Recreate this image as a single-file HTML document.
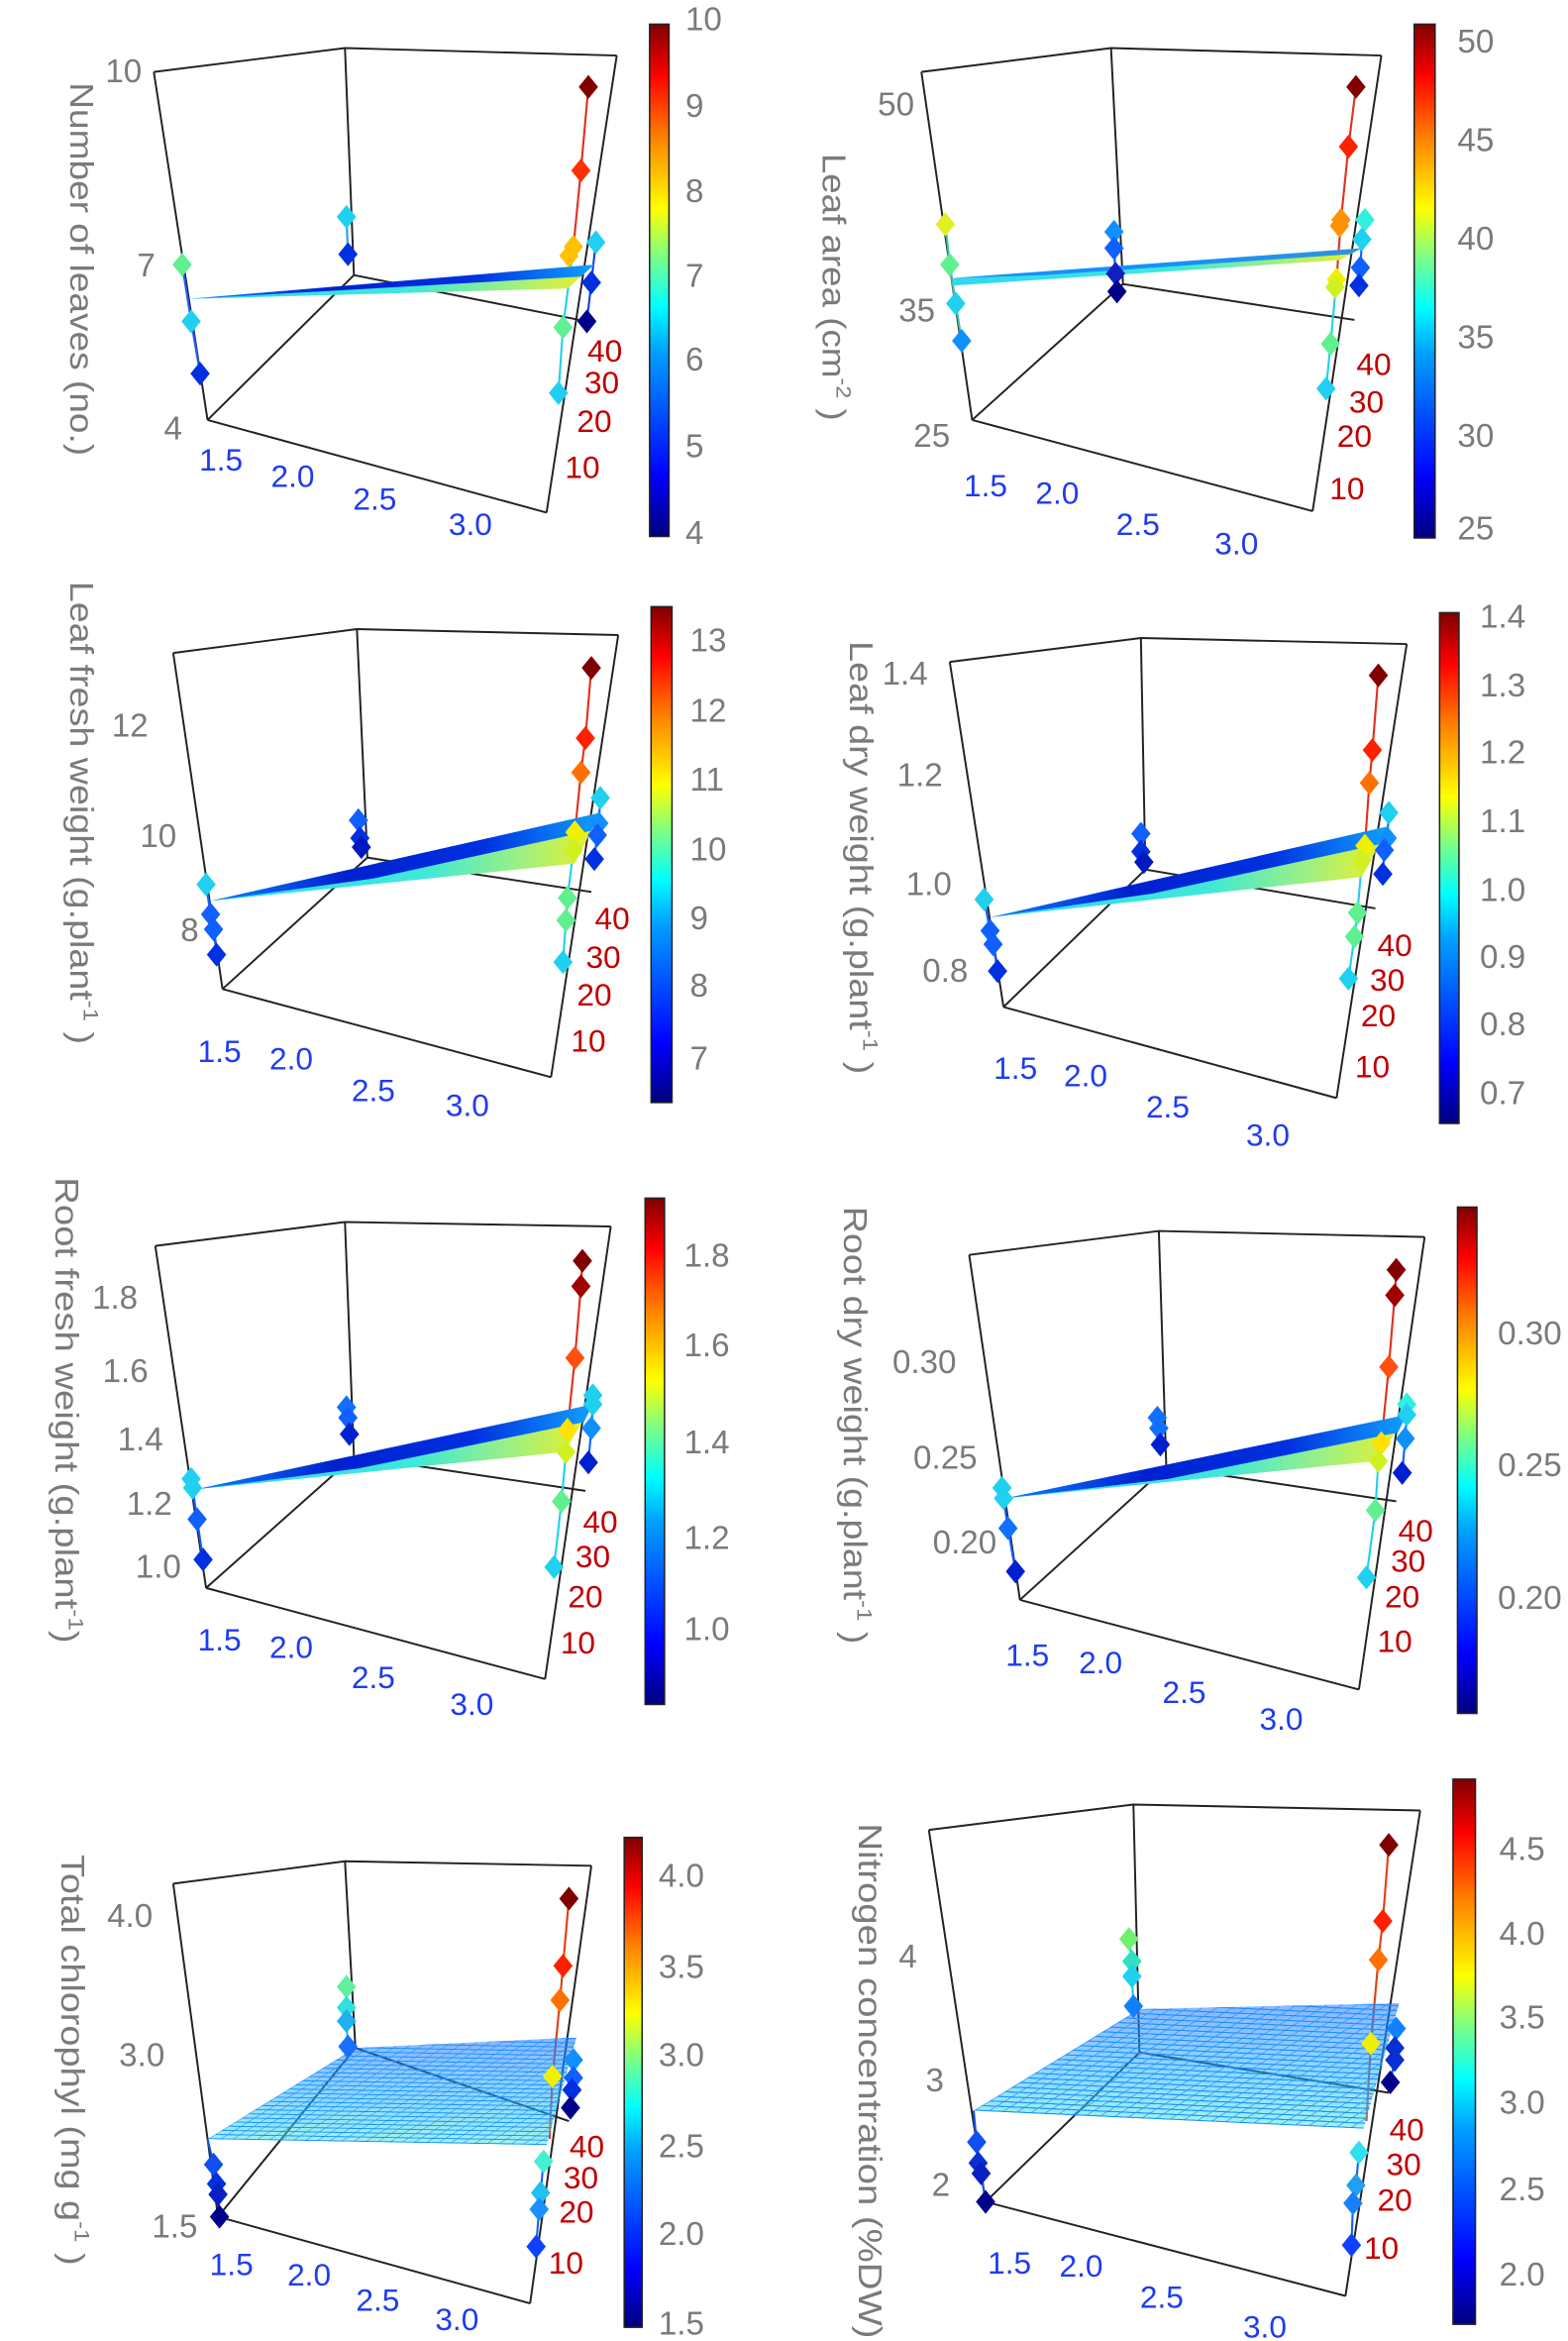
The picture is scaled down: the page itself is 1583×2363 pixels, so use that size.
<!DOCTYPE html>
<html><head><meta charset="utf-8"><style>
html,body{margin:0;padding:0;background:#fff;}
svg{display:block;}
.t{font-family:"Liberation Sans",sans-serif;fill:#7a7a7a;font-size:22px;}
.x{font-family:"Liberation Sans",sans-serif;fill:#1f3cf0;font-size:21px;}
.d{font-family:"Liberation Sans",sans-serif;fill:#c00000;font-size:21px;}
.yl{font-family:"Liberation Sans",sans-serif;fill:#7a7a7a;font-size:22px;}
.bx{fill:none;stroke:#222;stroke-width:1.3;}
.cb{fill:url(#jet);stroke:#222;stroke-width:1;}
.cl{fill:none;stroke-width:1.4;}
</style></head><body>
<svg width="1583" height="2363" viewBox="0 0 1050 1567" xmlns="http://www.w3.org/2000/svg" xmlns:xlink="http://www.w3.org/1999/xlink">
<defs>
<linearGradient id="jet" x1="0" y1="1" x2="0" y2="0">
<stop offset="0" stop-color="#00007f"/><stop offset="0.12" stop-color="#0000ff"/><stop offset="0.36" stop-color="#00a0ff"/><stop offset="0.45" stop-color="#00ffff"/><stop offset="0.55" stop-color="#80ff80"/><stop offset="0.64" stop-color="#ffff00"/><stop offset="0.78" stop-color="#ff8000"/><stop offset="0.9" stop-color="#ff0000"/><stop offset="1" stop-color="#7f0000"/>
</linearGradient>
<linearGradient id="mg" x1="0" y1="0" x2="0" y2="1">
<stop offset="0" stop-color="#1a6cff"/><stop offset="0.6" stop-color="#20b8ff"/><stop offset="1" stop-color="#40e8d0"/>
</linearGradient>
<linearGradient id="wb" x1="0" y1="0" x2="1" y2="0">
<stop offset="0" stop-color="#30d8f0"/><stop offset="0.55" stop-color="#40e8d8"/><stop offset="0.8" stop-color="#a0f080"/><stop offset="1" stop-color="#f0f020"/>
</linearGradient>
<linearGradient id="wt" x1="0" y1="0" x2="1" y2="0">
<stop offset="0" stop-color="#1080ff"/><stop offset="0.35" stop-color="#0020d0"/><stop offset="0.7" stop-color="#0030e0"/><stop offset="1" stop-color="#10a0ff"/>
</linearGradient>
<pattern id="p7" patternUnits="userSpaceOnUse" width="1" height="1" patternTransform="matrix(8.1,0.14,4.5,-2.77,139,1432)">
<path d="M0,0H1" stroke="#1a90ff" stroke-width="0.45"/><path d="M0,0V1" stroke="#1a90ff" stroke-width="0.16"/>
</pattern>
<pattern id="p8" patternUnits="userSpaceOnUse" width="1" height="1" patternTransform="matrix(9.32,0.43,5.05,-3.09,652,1413)">
<path d="M0,0H1" stroke="#1a90ff" stroke-width="0.45"/><path d="M0,0V1" stroke="#1a90ff" stroke-width="0.16"/>
</pattern>
<path id="dm" d="M0,-8L6.5,0L0,8L-6.5,0Z"/>
</defs>

<!-- ===== Panel 1 ===== -->
<path class="bx" d="M103,48L231,32L413,37M103,48L139,281M231,32L237,184M413,37L366,343M139,281L237,184M139,281L366,343M237,184L393,215"/>
<rect class="cb" x="435" y="16" width="13" height="343"/>
<polyline class="cl" stroke="#2060ff" points="122,177 128,215 134,250"/>
<polyline class="cl" stroke="#20a0f0" points="232,145 233,170"/>
<polyline class="cl" stroke="#e03020" points="394,58 389,114 384,165"/>
<polyline class="cl" stroke="#20d0f0" points="384,165 377,219 374,263"/>
<polyline class="cl" stroke="#1040e0" points="399,162 396,189 393,215"/>
<polygon points="126,200 398,177 380,193" fill="url(#wb)"/>
<polygon points="126,200 398,177 389,185" fill="url(#wt)"/>
<use xlink:href="#dm" x="122" y="177" fill="#60f090"/><use xlink:href="#dm" x="128" y="215" fill="#20d0f0"/><use xlink:href="#dm" x="134" y="250" fill="#0030e0"/>
<use xlink:href="#dm" x="232" y="145" fill="#20d0f0"/><use xlink:href="#dm" x="233" y="170" fill="#0030e0"/>
<use xlink:href="#dm" x="394" y="58" fill="#800000"/><use xlink:href="#dm" x="389" y="114" fill="#ff3000"/><use xlink:href="#dm" x="384" y="165" fill="#ffc000"/><use xlink:href="#dm" x="381" y="171" fill="#ffc000"/><use xlink:href="#dm" x="377" y="219" fill="#60f090"/><use xlink:href="#dm" x="374" y="263" fill="#20d0f0"/>
<use xlink:href="#dm" x="399" y="162" fill="#20d0f0"/><use xlink:href="#dm" x="396" y="189" fill="#0030e0"/><use xlink:href="#dm" x="393" y="215" fill="#00008b"/>

<text class="yl" transform="translate(47,180) rotate(90)" text-anchor="middle" textLength="250" lengthAdjust="spacingAndGlyphs">Number of leaves (no.)</text>
<text class="t" x="95" y="55" text-anchor="end">10</text>
<text class="t" x="104" y="185" text-anchor="end">7</text>
<text class="t" x="122" y="294" text-anchor="end">4</text>
<text class="x" x="148" y="315" text-anchor="middle">1.5</text>
<text class="x" x="196" y="326" text-anchor="middle">2.0</text>
<text class="x" x="251" y="341" text-anchor="middle">2.5</text>
<text class="x" x="315" y="358" text-anchor="middle">3.0</text>
<text class="d" x="405" y="242" text-anchor="middle">40</text>
<text class="d" x="403" y="263" text-anchor="middle">30</text>
<text class="d" x="398" y="289" text-anchor="middle">20</text>
<text class="d" x="390" y="320" text-anchor="middle">10</text>
<text class="t" x="459" y="20">10</text><text class="t" x="459" y="78">9</text><text class="t" x="459" y="135">8</text><text class="t" x="459" y="192">7</text><text class="t" x="459" y="248">6</text><text class="t" x="459" y="306">5</text><text class="t" x="459" y="364">4</text>

<!-- ===== Panel 2 ===== -->
<path class="bx" d="M617,48L744,32L925,37M617,48L651,281M744,32L752,190M925,37L879,342M651,281L752,190M651,281L879,342M752,190L907,214"/>
<rect class="cb" x="947" y="16" width="14" height="344"/>
<polyline class="cl" stroke="#40c0a0" points="633,150 636,177 640,203 644,228"/>
<polyline class="cl" stroke="#1050f0" points="746,155 746,166 747,183 748,195"/>
<polyline class="cl" stroke="#e03020" points="908,58 903,98 898,147 895,187"/>
<polyline class="cl" stroke="#20d0f0" points="895,187 891,230 888,260"/>
<polyline class="cl" stroke="#1060ff" points="914,147 912,160 911,179 910,191"/>
<polygon points="638,186 912,166 897,174 638,191" fill="url(#wb)"/>
<polygon points="638,186 912,166 904,170 700,184" fill="#1080ff" fill-opacity="0.85"/>
<use xlink:href="#dm" x="633" y="150" fill="#e0f020"/><use xlink:href="#dm" x="636" y="177" fill="#60f090"/><use xlink:href="#dm" x="640" y="203" fill="#20d0f0"/><use xlink:href="#dm" x="644" y="228" fill="#1090ff"/>
<use xlink:href="#dm" x="746" y="155" fill="#1090ff"/><use xlink:href="#dm" x="746" y="166" fill="#1060ff"/><use xlink:href="#dm" x="747" y="183" fill="#1020c0"/><use xlink:href="#dm" x="748" y="195" fill="#00008b"/>
<use xlink:href="#dm" x="908" y="58" fill="#800000"/><use xlink:href="#dm" x="903" y="98" fill="#ff2000"/><use xlink:href="#dm" x="898" y="147" fill="#ff9000"/><use xlink:href="#dm" x="897" y="151" fill="#ff9000"/><use xlink:href="#dm" x="895" y="187" fill="#f0f000"/><use xlink:href="#dm" x="894" y="192" fill="#d0f020"/><use xlink:href="#dm" x="891" y="230" fill="#60f090"/><use xlink:href="#dm" x="888" y="260" fill="#20d0f0"/>
<use xlink:href="#dm" x="914" y="147" fill="#30f0e0"/><use xlink:href="#dm" x="912" y="160" fill="#20d0f0"/><use xlink:href="#dm" x="911" y="179" fill="#1060ff"/><use xlink:href="#dm" x="910" y="191" fill="#0030e0"/>

<text class="yl" transform="translate(551,192) rotate(90)" text-anchor="middle" textLength="179" lengthAdjust="spacingAndGlyphs">Leaf area (cm<tspan font-size="14" dy="-9">-2</tspan><tspan dy="9"> )</tspan></text>
<text class="t" x="600" y="77" text-anchor="middle">50</text>
<text class="t" x="614" y="215" text-anchor="middle">35</text>
<text class="t" x="624" y="299" text-anchor="middle">25</text>
<text class="x" x="660" y="332" text-anchor="middle">1.5</text>
<text class="x" x="708" y="337" text-anchor="middle">2.0</text>
<text class="x" x="762" y="358" text-anchor="middle">2.5</text>
<text class="x" x="828" y="371" text-anchor="middle">3.0</text>
<text class="d" x="920" y="251" text-anchor="middle">40</text>
<text class="d" x="915" y="276" text-anchor="middle">30</text>
<text class="d" x="907" y="299" text-anchor="middle">20</text>
<text class="d" x="902" y="334" text-anchor="middle">10</text>
<text class="t" x="976" y="35">50</text><text class="t" x="976" y="101">45</text><text class="t" x="976" y="167">40</text><text class="t" x="976" y="233">35</text><text class="t" x="976" y="299">30</text><text class="t" x="976" y="361">25</text>

<!-- ===== Panel 3 ===== -->
<path class="bx" d="M116,437L239,421L414,425M116,437L149,662M239,421L246,574M414,425L369,721M149,662L246,574M149,662L369,721M246,574L396,597"/>
<rect class="cb" x="436" y="406" width="14" height="332"/>
<polyline class="cl" stroke="#1060ff" points="138,592 141,612 143,622 145,639"/>
<polyline class="cl" stroke="#1040e0" points="240,549 241,561 242,567"/>
<polyline class="cl" stroke="#e03020" points="396,447 392,494 389,517 385,557"/>
<polyline class="cl" stroke="#20d0f0" points="385,557 384,569 380,601 379,616 377,644"/>
<polyline class="cl" stroke="#1060ff" points="402,534 401,551 400,559 398,575"/>
<polygon points="141,603 402,544 385,578" fill="url(#wb)"/>
<polygon points="141,603 402,544 396,556 250,588" fill="url(#wt)"/>
<use xlink:href="#dm" x="138" y="592" fill="#20d0f0"/><use xlink:href="#dm" x="141" y="612" fill="#1060ff"/><use xlink:href="#dm" x="143" y="622" fill="#1060ff"/><use xlink:href="#dm" x="145" y="639" fill="#0030e0"/>
<use xlink:href="#dm" x="240" y="549" fill="#1060ff"/><use xlink:href="#dm" x="241" y="561" fill="#0030e0"/><use xlink:href="#dm" x="242" y="567" fill="#0018c0"/>
<use xlink:href="#dm" x="396" y="447" fill="#800000"/><use xlink:href="#dm" x="392" y="494" fill="#ff2000"/><use xlink:href="#dm" x="389" y="517" fill="#ff7000"/><use xlink:href="#dm" x="385" y="557" fill="#f0f000"/><use xlink:href="#dm" x="384" y="569" fill="#d0f020"/><use xlink:href="#dm" x="380" y="601" fill="#60f090"/><use xlink:href="#dm" x="379" y="616" fill="#60f090"/><use xlink:href="#dm" x="377" y="644" fill="#20d0f0"/>
<use xlink:href="#dm" x="402" y="534" fill="#20d0f0"/><use xlink:href="#dm" x="401" y="551" fill="#1090ff"/><use xlink:href="#dm" x="400" y="559" fill="#1060ff"/><use xlink:href="#dm" x="398" y="575" fill="#0030e0"/>

<text class="yl" transform="translate(47,544) rotate(90)" text-anchor="middle" textLength="310" lengthAdjust="spacingAndGlyphs">Leaf fresh weight (g.plant<tspan font-size="14" dy="-9">-1</tspan><tspan dy="9"> )</tspan></text>
<text class="t" x="87" y="493" text-anchor="middle">12</text>
<text class="t" x="106" y="567" text-anchor="middle">10</text>
<text class="t" x="127" y="630" text-anchor="middle">8</text>
<text class="x" x="147" y="711" text-anchor="middle">1.5</text>
<text class="x" x="195" y="716" text-anchor="middle">2.0</text>
<text class="x" x="250" y="737" text-anchor="middle">2.5</text>
<text class="x" x="313" y="747" text-anchor="middle">3.0</text>
<text class="d" x="410" y="622" text-anchor="middle">40</text>
<text class="d" x="404" y="648" text-anchor="middle">30</text>
<text class="d" x="398" y="673" text-anchor="middle">20</text>
<text class="d" x="394" y="704" text-anchor="middle">10</text>
<text class="t" x="462" y="436">13</text><text class="t" x="462" y="483">12</text><text class="t" x="462" y="529">11</text><text class="t" x="462" y="576">10</text><text class="t" x="462" y="622">9</text><text class="t" x="462" y="667">8</text><text class="t" x="462" y="716">7</text>

<!-- ===== Panel 4 ===== -->
<path class="bx" d="M636,443L764,427L942,431M636,443L672,674M764,427L767,582M942,431L895,735M672,674L767,582M672,674L895,735M767,582L921,608"/>
<rect class="cb" x="964" y="410" width="13" height="342"/>
<polyline class="cl" stroke="#1060ff" points="659,602 663,623 665,632 668,650"/>
<polyline class="cl" stroke="#1040e0" points="764,558 764,570 766,577"/>
<polyline class="cl" stroke="#e03020" points="923,452 919,502 917,524 914,566"/>
<polyline class="cl" stroke="#20d0f0" points="914,566 912,576 909,611 907,627 903,655"/>
<polyline class="cl" stroke="#1060ff" points="930,544 929,561 927,569 926,585"/>
<polygon points="663,614 930,553 912,587" fill="url(#wb)"/>
<polygon points="663,614 930,553 924,565 772,598" fill="url(#wt)"/>
<use xlink:href="#dm" x="659" y="602" fill="#20d0f0"/><use xlink:href="#dm" x="663" y="623" fill="#1060ff"/><use xlink:href="#dm" x="665" y="632" fill="#1060ff"/><use xlink:href="#dm" x="668" y="650" fill="#0030e0"/>
<use xlink:href="#dm" x="764" y="558" fill="#1060ff"/><use xlink:href="#dm" x="764" y="570" fill="#0030e0"/><use xlink:href="#dm" x="766" y="577" fill="#0018c0"/>
<use xlink:href="#dm" x="923" y="452" fill="#800000"/><use xlink:href="#dm" x="919" y="502" fill="#ff2000"/><use xlink:href="#dm" x="917" y="524" fill="#ff7000"/><use xlink:href="#dm" x="914" y="566" fill="#f0f000"/><use xlink:href="#dm" x="912" y="576" fill="#d0f020"/><use xlink:href="#dm" x="909" y="611" fill="#60f090"/><use xlink:href="#dm" x="907" y="627" fill="#60f090"/><use xlink:href="#dm" x="903" y="655" fill="#20d0f0"/>
<use xlink:href="#dm" x="930" y="544" fill="#20d0f0"/><use xlink:href="#dm" x="929" y="561" fill="#1090ff"/><use xlink:href="#dm" x="927" y="569" fill="#1060ff"/><use xlink:href="#dm" x="926" y="585" fill="#0030e0"/>

<text class="yl" transform="translate(569,574) rotate(90)" text-anchor="middle" textLength="290" lengthAdjust="spacingAndGlyphs">Leaf dry weight (g.plant<tspan font-size="14" dy="-9">-1</tspan><tspan dy="9"> )</tspan></text>
<text class="t" x="606" y="458" text-anchor="middle">1.4</text>
<text class="t" x="616" y="526" text-anchor="middle">1.2</text>
<text class="t" x="622" y="599" text-anchor="middle">1.0</text>
<text class="t" x="633" y="657" text-anchor="middle">0.8</text>
<text class="x" x="680" y="722" text-anchor="middle">1.5</text>
<text class="x" x="727" y="727" text-anchor="middle">2.0</text>
<text class="x" x="782" y="748" text-anchor="middle">2.5</text>
<text class="x" x="849" y="767" text-anchor="middle">3.0</text>
<text class="d" x="934" y="640" text-anchor="middle">40</text>
<text class="d" x="929" y="663" text-anchor="middle">30</text>
<text class="d" x="923" y="687" text-anchor="middle">20</text>
<text class="d" x="919" y="721" text-anchor="middle">10</text>
<text class="t" x="991" y="420">1.4</text><text class="t" x="991" y="466">1.3</text><text class="t" x="991" y="511">1.2</text><text class="t" x="991" y="557">1.1</text><text class="t" x="991" y="603">1.0</text><text class="t" x="991" y="648">0.9</text><text class="t" x="991" y="693">0.8</text><text class="t" x="991" y="739">0.7</text>

<!-- ===== Panel 5 ===== -->
<path class="bx" d="M104,834L231,818L409,821M104,834L138,1063M231,818L237,975M409,821L365,1124M138,1063L237,975M138,1063L365,1124M237,975L392,998"/>
<rect class="cb" x="432" y="802" width="13" height="339"/>
<polyline class="cl" stroke="#1060ff" points="128,990 129,996 132,1017 136,1044"/>
<polyline class="cl" stroke="#1040e0" points="232,942 233,949 234,960"/>
<polyline class="cl" stroke="#e03020" points="390,844 389,861 385,909 380,957"/>
<polyline class="cl" stroke="#20d0f0" points="380,957 379,972 376,1005 371,1049"/>
<polyline class="cl" stroke="#1060ff" points="397,934 397,940 396,956 394,979"/>
<polygon points="131,997 397,940 378,972" fill="url(#wb)"/>
<polygon points="131,997 397,940 391,952 240,983" fill="url(#wt)"/>
<use xlink:href="#dm" x="128" y="990" fill="#20d0f0"/><use xlink:href="#dm" x="129" y="996" fill="#20d0f0"/><use xlink:href="#dm" x="132" y="1017" fill="#1060ff"/><use xlink:href="#dm" x="136" y="1044" fill="#0030e0"/>
<use xlink:href="#dm" x="232" y="942" fill="#1070ff"/><use xlink:href="#dm" x="233" y="949" fill="#1060ff"/><use xlink:href="#dm" x="234" y="960" fill="#0020d0"/>
<use xlink:href="#dm" x="390" y="844" fill="#800000"/><use xlink:href="#dm" x="389" y="861" fill="#a00000"/><use xlink:href="#dm" x="385" y="909" fill="#ff5010"/><use xlink:href="#dm" x="380" y="957" fill="#ffe000"/><use xlink:href="#dm" x="379" y="972" fill="#d0f020"/><use xlink:href="#dm" x="376" y="1005" fill="#60f090"/><use xlink:href="#dm" x="371" y="1049" fill="#20d0f0"/>
<use xlink:href="#dm" x="397" y="934" fill="#20d0f0"/><use xlink:href="#dm" x="397" y="940" fill="#20d0f0"/><use xlink:href="#dm" x="396" y="956" fill="#1090ff"/><use xlink:href="#dm" x="394" y="979" fill="#0020d0"/>

<text class="yl" transform="translate(37,944) rotate(90)" text-anchor="middle" textLength="312" lengthAdjust="spacingAndGlyphs">Root fresh weight (g.plant<tspan font-size="14" dy="-9">-1</tspan><tspan dy="9">)</tspan></text>
<text class="t" x="77" y="876" text-anchor="middle">1.8</text>
<text class="t" x="84" y="925" text-anchor="middle">1.6</text>
<text class="t" x="94" y="971" text-anchor="middle">1.4</text>
<text class="t" x="100" y="1014" text-anchor="middle">1.2</text>
<text class="t" x="106" y="1056" text-anchor="middle">1.0</text>
<text class="x" x="147" y="1105" text-anchor="middle">1.5</text>
<text class="x" x="195" y="1110" text-anchor="middle">2.0</text>
<text class="x" x="250" y="1130" text-anchor="middle">2.5</text>
<text class="x" x="316" y="1148" text-anchor="middle">3.0</text>
<text class="d" x="402" y="1026" text-anchor="middle">40</text>
<text class="d" x="397" y="1049" text-anchor="middle">30</text>
<text class="d" x="392" y="1076" text-anchor="middle">20</text>
<text class="d" x="387" y="1107" text-anchor="middle">10</text>
<text class="t" x="458" y="848">1.8</text><text class="t" x="458" y="908">1.6</text><text class="t" x="458" y="973">1.4</text><text class="t" x="458" y="1037">1.2</text><text class="t" x="458" y="1098">1.0</text>

<!-- ===== Panel 6 ===== -->
<path class="bx" d="M649,840L776,824L954,828M649,840L683,1071M776,824L781,982M954,828L910,1131M683,1071L781,982M683,1071L910,1131M781,982L935,1005"/>
<rect class="cb" x="976" y="808" width="13" height="339"/>
<polyline class="cl" stroke="#1060ff" points="671,996 672,1003 675,1023 680,1052"/>
<polyline class="cl" stroke="#1040e0" points="775,949 776,956 777,967"/>
<polyline class="cl" stroke="#e03020" points="935,850 934,867 930,915 925,966"/>
<polyline class="cl" stroke="#20d0f0" points="925,966 923,978 921,1011 915,1056"/>
<polyline class="cl" stroke="#1060ff" points="942,940 942,947 941,963 939,986"/>
<polygon points="673,1003 942,947 922,978" fill="url(#wb)"/>
<polygon points="673,1003 942,947 936,959 782,990" fill="url(#wt)"/>
<use xlink:href="#dm" x="671" y="996" fill="#20d0f0"/><use xlink:href="#dm" x="672" y="1003" fill="#20d0f0"/><use xlink:href="#dm" x="675" y="1023" fill="#1070ff"/><use xlink:href="#dm" x="680" y="1052" fill="#0020d0"/>
<use xlink:href="#dm" x="775" y="949" fill="#1070ff"/><use xlink:href="#dm" x="776" y="956" fill="#1070ff"/><use xlink:href="#dm" x="777" y="967" fill="#0020d0"/>
<use xlink:href="#dm" x="935" y="850" fill="#800000"/><use xlink:href="#dm" x="934" y="867" fill="#a00000"/><use xlink:href="#dm" x="930" y="915" fill="#ff5010"/><use xlink:href="#dm" x="925" y="966" fill="#ffe000"/><use xlink:href="#dm" x="923" y="978" fill="#d0f020"/><use xlink:href="#dm" x="921" y="1011" fill="#60f090"/><use xlink:href="#dm" x="915" y="1056" fill="#20d0f0"/>
<use xlink:href="#dm" x="942" y="940" fill="#30f0e0"/><use xlink:href="#dm" x="942" y="947" fill="#20d0f0"/><use xlink:href="#dm" x="941" y="963" fill="#1090ff"/><use xlink:href="#dm" x="939" y="986" fill="#0020d0"/>

<text class="yl" transform="translate(565,954) rotate(90)" text-anchor="middle" textLength="293" lengthAdjust="spacingAndGlyphs">Root dry weight (g.plant<tspan font-size="14" dy="-9">-1</tspan><tspan dy="9"> )</tspan></text>
<text class="t" x="619" y="919" text-anchor="middle">0.30</text>
<text class="t" x="633" y="983" text-anchor="middle">0.25</text>
<text class="t" x="646" y="1040" text-anchor="middle">0.20</text>
<text class="x" x="688" y="1115" text-anchor="middle">1.5</text>
<text class="x" x="737" y="1120" text-anchor="middle">2.0</text>
<text class="x" x="793" y="1140" text-anchor="middle">2.5</text>
<text class="x" x="858" y="1158" text-anchor="middle">3.0</text>
<text class="d" x="948" y="1032" text-anchor="middle">40</text>
<text class="d" x="943" y="1052" text-anchor="middle">30</text>
<text class="d" x="939" y="1076" text-anchor="middle">20</text>
<text class="d" x="934" y="1106" text-anchor="middle">10</text>
<text class="t" x="1003" y="900">0.30</text><text class="t" x="1003" y="988">0.25</text><text class="t" x="1003" y="1077">0.20</text>

<!-- ===== Panel 7 ===== -->
<path class="bx" d="M116,1261L231,1246L396,1249M116,1261L146,1484M231,1246L238,1371M396,1249L355,1542M146,1484L238,1371M146,1484L355,1542M238,1371L381,1420"/>
<rect class="cb" x="418" y="1230" width="12" height="328"/>
<polyline class="cl" stroke="#1050f0" points="139,1432 143,1449 145,1462 146,1469 147,1484"/>
<polyline class="cl" stroke="#20b0f0" points="232,1330 232,1344 232,1353 233,1370"/>
<polyline class="cl" stroke="#e04010" points="381,1271 377,1316 375,1339 370,1390 368,1432"/>
<polyline class="cl" stroke="#1060ff" points="364,1447 362,1468 361,1479 359,1504"/>
<polyline class="cl" stroke="#1060ff" points="384,1379 384,1391 383,1399 382,1411"/>
<polygon points="139,1432 238,1371 386,1364 366,1436" fill="url(#mg)" fill-opacity="0.5"/>
<polygon points="139,1432 238,1371 386,1364 366,1436" fill="url(#p7)"/>
<use xlink:href="#dm" x="143" y="1449" fill="#1050f0"/><use xlink:href="#dm" x="145" y="1462" fill="#0030e0"/><use xlink:href="#dm" x="146" y="1469" fill="#0820c0"/><use xlink:href="#dm" x="147" y="1484" fill="#00008b"/>
<use xlink:href="#dm" x="232" y="1330" fill="#60f0a0"/><use xlink:href="#dm" x="232" y="1344" fill="#30e0e0"/><use xlink:href="#dm" x="232" y="1353" fill="#20b0f0"/><use xlink:href="#dm" x="233" y="1370" fill="#1870ff"/>
<use xlink:href="#dm" x="381" y="1271" fill="#800000"/><use xlink:href="#dm" x="377" y="1316" fill="#ff2000"/><use xlink:href="#dm" x="375" y="1339" fill="#ff7000"/><use xlink:href="#dm" x="370" y="1390" fill="#f0f000"/><use xlink:href="#dm" x="364" y="1447" fill="#40f0d0"/><use xlink:href="#dm" x="362" y="1468" fill="#20c0f0"/><use xlink:href="#dm" x="361" y="1479" fill="#1890ff"/><use xlink:href="#dm" x="359" y="1504" fill="#1040ff"/>
<use xlink:href="#dm" x="384" y="1379" fill="#1090ff"/><use xlink:href="#dm" x="384" y="1391" fill="#1060ff"/><use xlink:href="#dm" x="383" y="1399" fill="#0030e0"/><use xlink:href="#dm" x="382" y="1411" fill="#00008b"/>

<text class="yl" transform="translate(41,1379) rotate(90)" text-anchor="middle" textLength="275" lengthAdjust="spacingAndGlyphs">Total chlorophyl (mg g<tspan font-size="14" dy="-9">-1</tspan><tspan dy="9"> )</tspan></text>
<text class="t" x="87" y="1290" text-anchor="middle">4.0</text>
<text class="t" x="95" y="1383" text-anchor="middle">3.0</text>
<text class="t" x="117" y="1498" text-anchor="middle">1.5</text>
<text class="x" x="155" y="1523" text-anchor="middle">1.5</text>
<text class="x" x="207" y="1530" text-anchor="middle">2.0</text>
<text class="x" x="253" y="1547" text-anchor="middle">2.5</text>
<text class="x" x="306" y="1560" text-anchor="middle">3.0</text>
<text class="d" x="393" y="1444" text-anchor="middle">40</text>
<text class="d" x="389" y="1465" text-anchor="middle">30</text>
<text class="d" x="386" y="1488" text-anchor="middle">20</text>
<text class="d" x="379" y="1522" text-anchor="middle">10</text>
<text class="t" x="441" y="1263">4.0</text><text class="t" x="441" y="1324">3.5</text><text class="t" x="441" y="1383">3.0</text><text class="t" x="441" y="1444">2.5</text><text class="t" x="441" y="1503">2.0</text><text class="t" x="441" y="1563">1.5</text>

<!-- ===== Panel 8 ===== -->
<path class="bx" d="M622,1225L759,1208L951,1212M622,1225L660,1474M759,1208L763,1374M951,1212L901,1537M660,1474L763,1374M660,1474L901,1537M763,1374L930,1401"/>
<rect class="cb" x="973" y="1191" width="15" height="365"/>
<polyline class="cl" stroke="#1050f0" points="652,1413 654,1434 655,1448 657,1455 660,1474"/>
<polyline class="cl" stroke="#20c0f0" points="756,1298 758,1313 758,1323 759,1343"/>
<polyline class="cl" stroke="#e04010" points="930,1235 926,1286 923,1312 918,1368 915,1420"/>
<polyline class="cl" stroke="#1060ff" points="910,1441 908,1463 906,1475 905,1503"/>
<polyline class="cl" stroke="#1060ff" points="935,1358 934,1371 934,1379 931,1394"/>
<polygon points="652,1413 763,1345 937,1341 913,1425" fill="url(#mg)" fill-opacity="0.5"/>
<polygon points="652,1413 763,1345 937,1341 913,1425" fill="url(#p8)"/>
<use xlink:href="#dm" x="654" y="1434" fill="#1050f0"/><use xlink:href="#dm" x="655" y="1448" fill="#0830d0"/><use xlink:href="#dm" x="657" y="1455" fill="#0820c0"/><use xlink:href="#dm" x="660" y="1474" fill="#00008b"/>
<use xlink:href="#dm" x="756" y="1298" fill="#70f070"/><use xlink:href="#dm" x="758" y="1313" fill="#30e0c0"/><use xlink:href="#dm" x="758" y="1323" fill="#20d0f0"/><use xlink:href="#dm" x="759" y="1343" fill="#1080ff"/>
<use xlink:href="#dm" x="930" y="1235" fill="#800000"/><use xlink:href="#dm" x="926" y="1286" fill="#ff2000"/><use xlink:href="#dm" x="923" y="1312" fill="#ff7000"/><use xlink:href="#dm" x="918" y="1368" fill="#f0f000"/><use xlink:href="#dm" x="910" y="1441" fill="#30e0f0"/><use xlink:href="#dm" x="908" y="1463" fill="#20a0f0"/><use xlink:href="#dm" x="906" y="1475" fill="#1880ff"/><use xlink:href="#dm" x="905" y="1503" fill="#1040ff"/>
<use xlink:href="#dm" x="935" y="1358" fill="#1080ff"/><use xlink:href="#dm" x="934" y="1371" fill="#0830d0"/><use xlink:href="#dm" x="934" y="1379" fill="#0830d0"/><use xlink:href="#dm" x="931" y="1394" fill="#00008b"/>

<text class="yl" transform="translate(575,1393) rotate(90)" text-anchor="middle" textLength="345" lengthAdjust="spacingAndGlyphs">Nitrogen concentration (%DW)</text>
<text class="t" x="608" y="1317" text-anchor="middle">4</text>
<text class="t" x="626" y="1400" text-anchor="middle">3</text>
<text class="t" x="630" y="1470" text-anchor="middle">2</text>
<text class="x" x="676" y="1522" text-anchor="middle">1.5</text>
<text class="x" x="724" y="1524" text-anchor="middle">2.0</text>
<text class="x" x="778" y="1545" text-anchor="middle">2.5</text>
<text class="x" x="847" y="1565" text-anchor="middle">3.0</text>
<text class="d" x="942" y="1433" text-anchor="middle">40</text>
<text class="d" x="940" y="1456" text-anchor="middle">30</text>
<text class="d" x="934" y="1480" text-anchor="middle">20</text>
<text class="d" x="925" y="1512" text-anchor="middle">10</text>
<text class="t" x="1004" y="1245">4.5</text><text class="t" x="1004" y="1302">4.0</text><text class="t" x="1004" y="1358">3.5</text><text class="t" x="1004" y="1415">3.0</text><text class="t" x="1004" y="1473">2.5</text><text class="t" x="1004" y="1530">2.0</text>
</svg>
</body></html>
